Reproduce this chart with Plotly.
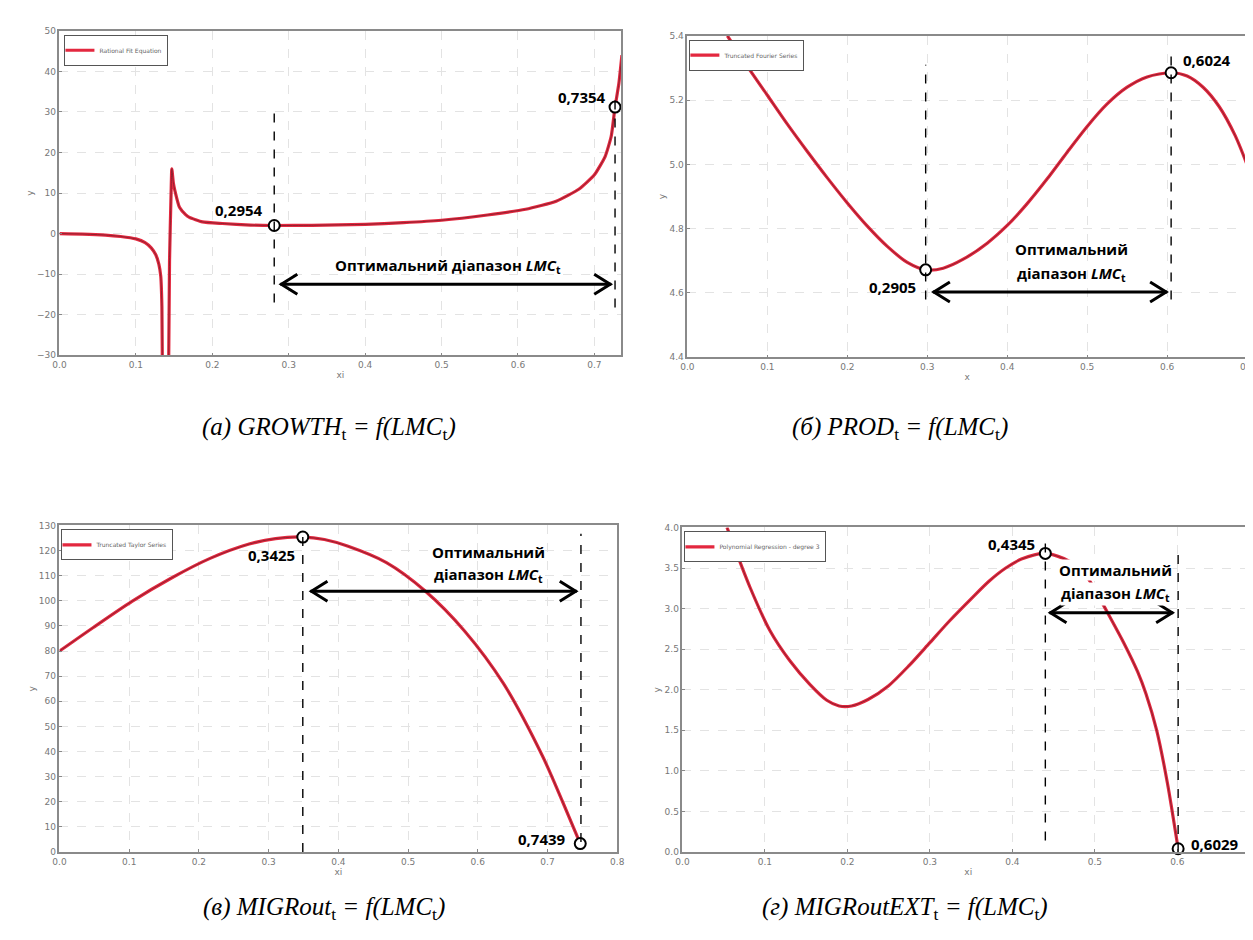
import plotly.graph_objects as go

# (а) GROWTH_t = f(LMC_t) -- two branches around the asymptote, None breaks the line
growth_x = [0.0, 0.03, 0.06, 0.08, 0.1, 0.112, 0.12, 0.126, 0.13, 0.1325, 0.134, 0.135, None,
            0.1425, 0.144, 0.146, 0.147, 0.149, 0.151, 0.157, 0.165, 0.17, 0.187, 0.213, 0.25,
            0.281, 0.33, 0.4, 0.45, 0.5, 0.56, 0.61, 0.65, 0.68, 0.7, 0.714, 0.722, 0.727, 0.732, 0.736]
growth_y = [0.0, -0.1, -0.35, -0.7, -1.3, -2.2, -3.5, -5.2, -7.5, -10.5, -18, -40, None,
            -40, -6.6, 9.8, 16.0, 12.5, 10.6, 6.5, 4.7, 4.0, 2.9, 2.5, 2.1,
            2.0, 2.05, 2.3, 2.7, 3.3, 4.6, 6.0, 8.0, 11.0, 14.5, 19.0, 24.0, 31.2, 37.0, 44.0]
growth_pts_x = [0.281, 0.727]
growth_pts_y = [2.0, 31.2]
growth_labels = ['0,2954', '0,7354']

# (б) PROD_t = f(LMC_t)
prod_x = [0.05, 0.075, 0.1, 0.125, 0.15, 0.175, 0.2, 0.225, 0.25, 0.275, 0.298, 0.32, 0.345,
          0.375, 0.4, 0.425, 0.45, 0.475, 0.5, 0.525, 0.55, 0.575, 0.605, 0.625, 0.645, 0.665,
          0.685, 0.703]
prod_y = [5.4, 5.305, 5.215, 5.125, 5.04, 4.958, 4.88, 4.808, 4.745, 4.695, 4.672, 4.677, 4.705,
          4.755, 4.81, 4.878, 4.955, 5.038, 5.118, 5.188, 5.24, 5.272, 5.285, 5.275, 5.24, 5.18,
          5.09, 4.98]
prod_pts_x = [0.298, 0.605]
prod_pts_y = [4.672, 5.285]
prod_labels = ['0,2905', '0,6024']

# (в) MIGRout_t = f(LMC_t)
migr_x = [0.0, 0.048, 0.104, 0.16, 0.216, 0.272, 0.31, 0.349, 0.38, 0.413, 0.469, 0.525, 0.581,
          0.637, 0.693, 0.722, 0.747]
migr_y = [80, 89.3, 99.8, 109, 116.9, 122.6, 124.8, 125.4, 124.4, 121.8, 115.2, 103.8, 88,
          67, 38.1, 19.8, 3.35]
migr_pts_x = [0.349, 0.747]
migr_pts_y = [125.4, 3.35]
migr_labels = ['0,3425', '0,7439']

# (г) MIGRoutEXT_t = f(LMC_t)
ext_x = [0.054, 0.082, 0.106, 0.13, 0.155, 0.175, 0.19, 0.205, 0.225, 0.25, 0.275, 0.3, 0.324,
         0.35, 0.372, 0.392, 0.411, 0.44, 0.47, 0.49, 0.504, 0.516, 0.535, 0.552, 0.562,
         0.575, 0.588, 0.601]
ext_y = [4.0, 3.26, 2.73, 2.36, 2.06, 1.87, 1.80, 1.80, 1.88, 2.05, 2.30, 2.58, 2.85,
         3.12, 3.34, 3.5, 3.61, 3.68, 3.58, 3.40, 3.16, 2.94, 2.58, 2.22, 1.95,
         1.5, 0.85, 0.04]
ext_pts_x = [0.44, 0.601]
ext_pts_y = [3.68, 0.04]
ext_labels = ['0,4345', '0,6029']

legend_names = ['Rational Fit Equation', 'Truncated Fourier Series',
                'Truncated Taylor Series', 'Polynomial Regression - degree 3']
captions = ['<i>(а) GROWTH</i><sub>t</sub><i> = f(LMC</i><sub>t</sub><i>)</i>',
            '<i>(б) PROD</i><sub>t</sub><i> = f(LMC</i><sub>t</sub><i>)</i>',
            '<i>(в) MIGRout</i><sub>t</sub><i> = f(LMC</i><sub>t</sub><i>)</i>',
            '<i>(г) MIGRoutEXT</i><sub>t</sub><i> = f(LMC</i><sub>t</sub><i>)</i>']
opt_line1 = 'Оптимальний'
opt_line2 = 'діапазон <i>LMC</i><sub>t</sub>'

W, H = 1253, 940
RED = '#e3283f'
CORE = '#7a1f2c'
LABEL_FONT = dict(family='Open Sans', size=15, color='black')
SMALL = dict(family='DejaVu Sans', size=9, color='#777')

panels = [
    dict(x=growth_x, y=growth_y, px=growth_pts_x, py=growth_pts_y, labels=growth_labels,
         smooth=0.5, xdom=[45 / W, 613 / W], ydom=[1 - 346 / H, 1 - 18 / H],
         xr=[0, 0.735], yr=[-30, 50], ydt=10, yfmt='d', xt='xi',
         offs=[(-9, 16, 'right'), (-7, 10, 'right')],
         vlines=[(0.281, -17, 30), (0.727, -18.2, 34)], arrow=(-12.5, 0.289, 0.722),
         text=[(0.508, -8, opt_line1 + ' ' + opt_line2)],
         leg=(50 / W, 1 - 22 / H), cap=(318 / W, 1 - 420 / H), textbg=None),
    dict(x=prod_x, y=prod_y, px=prod_pts_x, py=prod_pts_y, labels=prod_labels,
         smooth=0.8, xdom=[680 / W, 1246 / W], ydom=[1 - 348 / H, 1 - 23 / H],
         xr=[0, 0.7], yr=[4.4, 5.4], ydt=0.2, yfmt='.1f', xt='x',
         offs=[(-8, -17, 'right'), (10, 13, 'left')],
         vlines=[(0.298, 4.58, 5.31), (0.605, 4.58, 5.34)], arrow=(4.603, 0.307, 0.6),
         text=[(0.48, 4.736, opt_line1), (0.48, 4.66, opt_line2)],
         leg=(682 / W, 1 - 27 / H), cap=(895 / W, 1 - 420 / H), textbg=None),
    dict(x=migr_x, y=migr_y, px=migr_pts_x, py=migr_pts_y, labels=migr_labels,
         smooth=0.8, xdom=[45 / W, 609 / W], ydom=[1 - 848 / H, 1 - 518 / H],
         xr=[0, 0.8], yr=[0, 130], ydt=10, yfmt='d', xt='xi',
         offs=[(-6, -18, 'right'), (-12, 5, 'right')],
         vlines=[(0.349, 0, 127), (0.748, 4, 126.7)], arrow=(103.8, 0.36, 0.742),
         text=[(0.615, 119.5, opt_line1), (0.615, 110.3, opt_line2)],
         leg=(47 / W, 1 - 522 / H), cap=(312 / W, 1 - 905 / H), textbg=None),
    dict(x=ext_x, y=ext_y, px=ext_pts_x, py=ext_pts_y, labels=ext_labels,
         smooth=0.8, xdom=[675 / W, 1.0], ydom=[1 - 848 / H, 1 - 520 / H],
         xr=[0, 0.693], yr=[0, 4.0], ydt=0.5, yfmt='.1f', xt='xi',
         offs=[(-8, 9, 'right'), (11, 5, 'left')],
         vlines=[(0.44, 0.14, 3.85), (0.601, 0, 3.67)], arrow=(2.95, 0.445, 0.595),
         text=[(0.525, 3.48, opt_line1), (0.525, 3.18, opt_line2)],
         leg=(677 / W, 1 - 524 / H), cap=(900 / W, 1 - 905 / H), textbg='white'),
]

fig = go.Figure()
layout = dict(width=W, height=H, margin=dict(l=0, r=0, t=0, b=0),
              paper_bgcolor='white', plot_bgcolor='white', showlegend=True)
shapes, annotations = [], []

for i, p in enumerate(panels):
    n = '' if i == 0 else str(i + 1)
    xa, ya = 'x' + n, 'y' + n
    leg = 'legend' + n
    fig.add_trace(go.Scatter(x=p['x'], y=p['y'], mode='lines', name=legend_names[i],
                             line=dict(color=RED, width=3.2, shape='spline',
                                       smoothing=p['smooth']),
                             xaxis=xa, yaxis=ya, legend=leg, connectgaps=False))
    fig.add_trace(go.Scatter(x=p['x'], y=p['y'], mode='lines', showlegend=False,
                             line=dict(color=CORE, width=0.8, shape='spline',
                                       smoothing=p['smooth']),
                             xaxis=xa, yaxis=ya, connectgaps=False, hoverinfo='skip'))

    # dashed guides, under the points
    for vx, y0, y1 in p['vlines']:
        shapes.append(dict(type='line', xref=xa, yref=ya, x0=vx, x1=vx, y0=y0, y1=y1,
                           line=dict(color='black', width=1.4, dash='dash')))
    # double arrow with open chevron heads
    ay, ax0, ax1 = p['arrow']
    shapes.append(dict(type='line', xref=xa, yref=ya, x0=ax0, x1=ax1, y0=ay, y1=ay,
                       line=dict(color='black', width=3)))
    shapes.append(dict(type='path', xref=xa, yref=ya, xsizemode='pixel', ysizemode='pixel',
                       xanchor=ax0, yanchor=ay, path='M 17,10 L 1,0 L 17,-10',
                       line=dict(color='black', width=3)))
    shapes.append(dict(type='path', xref=xa, yref=ya, xsizemode='pixel', ysizemode='pixel',
                       xanchor=ax1, yanchor=ay, path='M -17,10 L -1,0 L -17,-10',
                       line=dict(color='black', width=3)))

    fig.add_trace(go.Scatter(x=p['px'], y=p['py'], mode='markers', showlegend=False,
                             marker=dict(size=11, color='white',
                                         line=dict(color='black', width=2)),
                             xaxis=xa, yaxis=ya, cliponaxis=False))

    for (dx, dy, anc), lx, ly, lab in zip(p['offs'], p['px'], p['py'], p['labels']):
        annotations.append(dict(x=lx, y=ly, xref=xa, yref=ya, text='<b>' + lab + '</b>',
                                showarrow=False, xanchor=anc, yanchor='middle',
                                xshift=dx, yshift=dy, font=LABEL_FONT))
    for tx, ty, tt in p['text']:
        annotations.append(dict(x=tx, y=ty, xref=xa, yref=ya, text='<b>' + tt + '</b>',
                                showarrow=False, xanchor='center', yanchor='middle',
                                font=LABEL_FONT, bgcolor=p['textbg'], borderpad=0))

    annotations.append(dict(x=p['cap'][0], y=p['cap'][1], xref='paper', yref='paper',
                            text=captions[i], showarrow=False, xanchor='center',
                            yanchor='middle',
                            font=dict(family='Liberation Serif', size=25, color='black')))

    axis_common = dict(showline=True, mirror=True, linecolor='#8a8a8a', linewidth=1.5,
                       showgrid=True, gridcolor='#e3e3e3', griddash='dash', gridwidth=1,
                       zeroline=False, ticks='inside', ticklen=3, tickcolor='#888',
                       tickfont=SMALL)
    layout['xaxis' + n] = dict(axis_common, domain=p['xdom'], range=p['xr'], dtick=0.1,
                               tick0=0, tickformat='.1f', anchor=ya,
                               title=dict(text=p['xt'], standoff=3, font=SMALL))
    layout['yaxis' + n] = dict(axis_common, domain=p['ydom'], range=p['yr'], dtick=p['ydt'],
                               tick0=p['yr'][0], tickformat=p['yfmt'], anchor=xa,
                               title=dict(text='y', standoff=2, font=SMALL))
    layout[leg] = dict(x=p['leg'][0], y=p['leg'][1], xanchor='left', yanchor='top',
                       bgcolor='white', bordercolor='#555', borderwidth=1,
                       font=dict(family='DejaVu Sans', size=6, color='#666'),
                       itemwidth=30, tracegroupgap=0, indentation=-6)

layout['shapes'] = shapes
layout['annotations'] = annotations
fig.update_layout(**layout)

fig.write_html("out.html")
